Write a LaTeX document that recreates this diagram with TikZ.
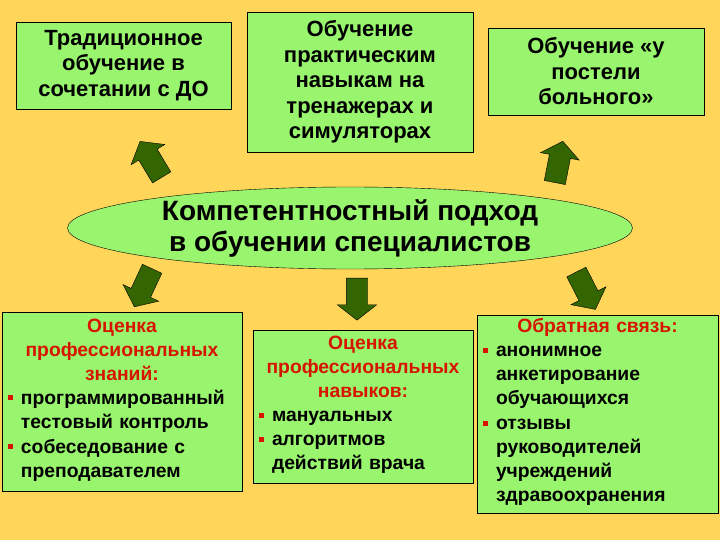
\documentclass[tikz,border=0pt]{standalone}
\usepackage{fontspec}
\setmainfont{Liberation Sans}
\usetikzlibrary{shapes.geometric,shapes.arrows}
\definecolor{bgyellow}{RGB}{255,214,90}
\definecolor{boxgreen}{RGB}{153,245,110}
\definecolor{arrowgreen}{RGB}{51,102,0}
\definecolor{titlered}{RGB}{215,20,0}
\newcommand{\bpunkt}[1]{\par\noindent\makebox[13pt][l]{\textcolor{titlered}{\rule[4pt]{5pt}{5pt}}}%
  \begin{tabular}[t]{@{}l@{}}#1\end{tabular}\par}
\newcommand{\btitel}[1]{{\centering\color{titlered}#1\par}}
\begin{document}
\begin{tikzpicture}
[x=1pt, y=-1pt,
top box/.style={rectangle,draw=black,fill=boxgreen,inner sep=0pt,align=center,
  font=\bfseries\fontsize{22}{25.5}\selectfont},
low box/.style={rectangle,draw=black,fill=boxgreen,inner xsep=6pt,inner ysep=0pt,align=left,
  font=\bfseries\fontsize{19.3}{24}\selectfont},
block arrow/.style={single arrow,draw=black,fill=arrowgreen,inner xsep=0pt,inner ysep=10.5pt,
  minimum height=42pt,single arrow head extend=9pt,single arrow tip angle=104}]
\fill[bgyellow] (0,0) rectangle (720,540);
\useasboundingbox (0,0) rectangle (720,540);

\node[top box, minimum width=215pt, minimum height=87pt] (trad) at (123.5,65.5)
  {Традиционное\\обучение в\\сочетании с ДО};
\node[top box, minimum width=226pt, minimum height=140pt] (sim) at (360,82)
  {Обучение\\практическим\\навыкам на\\тренажерах и\\симуляторах};
\node[top box, minimum width=216pt, minimum height=87pt] (bed) at (596,71.5)
  {Обучение «у\\постели\\больного»};

\node[ellipse,draw=black,fill=boxgreen,inner sep=0pt,minimum width=565pt,minimum height=82pt,
  align=center,font=\bfseries\fontsize{28}{31}\selectfont] (komp) at (350,228)
  {Компетентностный подход\\в обучении специалистов};

\node[low box, text width=228pt, minimum height=179pt] (znan) at (122,401.5)
  {\btitel{Оценка\\профессиональных\\знаний:}
   \bpunkt{программированный\\тестовый контроль}
   \bpunkt{собеседование с\\преподавателем}};
\node[low box, text width=208pt, minimum height=153pt] (navyk) at (363,406.5)
  {\btitel{Оценка\\профессиональных\\навыков:}
   \bpunkt{мануальных}
   \bpunkt{алгоритмов\\действий врача}};
\node[low box, text width=229pt, minimum height=198pt] (svyaz) at (597.5,414)
  {\btitel{Обратная связь:}
   \bpunkt{анонимное\\анкетирование\\обучающихся}
   \bpunkt{отзывы\\руководителей\\учреждений\\здравоохранения}};

\node[block arrow, rotate=121] (a1) at (153,163) {};
\node[block arrow, rotate=79] (a2) at (558,166) {};
\node[block arrow, rotate=245] (a3) at (145,284) {};
\node[block arrow, rotate=270] (a4) at (357,295) {};
\node[block arrow, rotate=-63] (a5) at (584,287) {};
\end{tikzpicture}
\end{document}
